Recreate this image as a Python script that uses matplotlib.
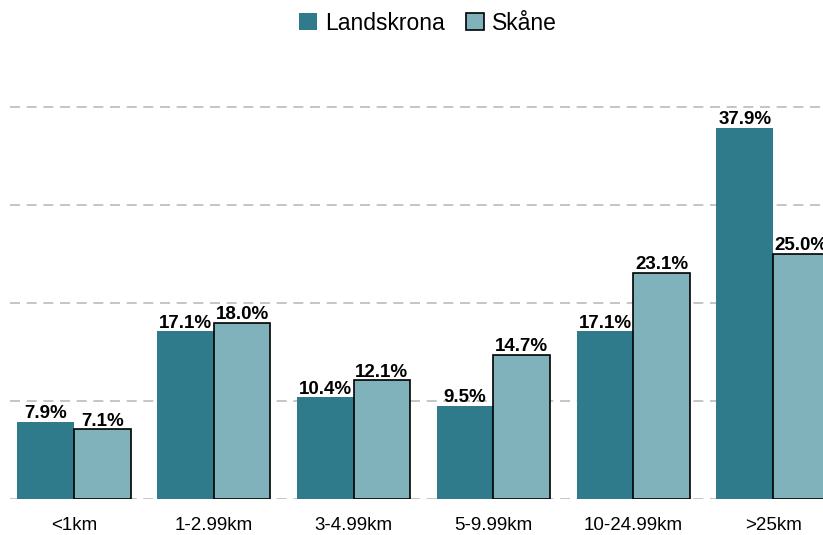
import matplotlib
matplotlib.use("Agg")
import matplotlib.pyplot as plt
import numpy as np

plt.rcParams['font.family'] = ['Liberation Sans', 'DejaVu Sans']

categories = ["<1km", "1-2.99km", "3-4.99km", "5-9.99km", "10-24.99km", ">25km"]
landskrona = [7.9, 17.1, 10.4, 9.5, 17.1, 37.9]
skane = [7.1, 18.0, 12.1, 14.7, 23.1, 25.0]
series_names = ["Landskrona", "Skåne"]

W, H = 823, 535
fig = plt.figure(figsize=(W/100, H/100), dpi=100)
ax = fig.add_axes([10/W, 36/H, 827/W, (441)/H])

x = np.arange(len(categories))
bw = 0.405
c1, c2 = "#2f7b8c", "#7fb2bb"
b1 = ax.bar(x - bw/2, landskrona, bw, color=c1, label=series_names[0], zorder=3)
b2 = ax.bar(x + bw/2, skane, bw, color=c2, edgecolor="black", linewidth=1.2,
            label=series_names[1], zorder=3)

for rect, v in zip(b1, landskrona):
    ax.text(rect.get_x() + rect.get_width()/2, v - 0.05, f"{v:.1f}%", ha="center",
            va="bottom", fontsize=13.5, fontweight="bold", zorder=4)
for rect, v in zip(b2, skane):
    ax.text(rect.get_x() + rect.get_width()/2, v - 0.05, f"{v:.1f}%", ha="center",
            va="bottom", fontsize=13.5, fontweight="bold", zorder=4)

ax.set_xlim(-0.457, len(categories) - 1 + 0.457)
ax.set_ylim(0, 45)
ax.set_yticks([0, 10, 20, 30, 40])
ax.yaxis.grid(True, linestyle=(0, (6, 4)), color="#bbbbbb", linewidth=1.2, zorder=0)
ax.set_yticklabels([])
ax.tick_params(axis="y", length=0)
ax.set_xticks(x)
ax.set_xticklabels(categories, fontsize=13.5)
ax.tick_params(axis="x", length=0, pad=13)
for s in ax.spines.values():
    s.set_visible(False)

fig.legend(loc="upper center", bbox_to_anchor=(0.52, 1.017), ncol=2, frameon=False,
           fontsize=16.5, handlelength=0.8, handleheight=0.8, handletextpad=0.35,
           columnspacing=0.9)

fig.savefig("out.png", dpi=100)
